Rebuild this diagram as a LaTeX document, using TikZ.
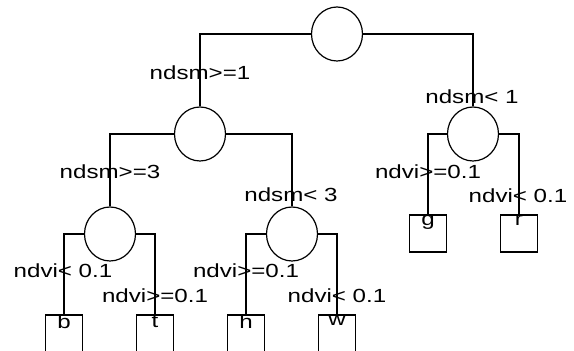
\documentclass[tikz,border=0pt]{standalone}
\usepackage{fontspec}
\setmainfont{Liberation Sans}
\newfontfamily\widefont[FakeStretch=1.27]{Liberation Sans}
\usetikzlibrary{shapes.geometric}

\begin{document}
\begin{tikzpicture}[x=0.5pt, y=-0.5pt, line width=0.6pt,
  split/.style={draw, ellipse, minimum width=25.5pt, minimum height=27pt, inner sep=0pt},
  leaf/.style={draw, minimum width=18.5pt, minimum height=18.5pt, inner sep=0pt},
  letter/.style={anchor=north, inner sep=0pt, font=\widefont\fontsize{9.5pt}{11pt}\selectfont},
  cond/.style={anchor=base, inner sep=0pt, font=\widefont\fontsize{9.5pt}{11pt}\selectfont}]
  \useasboundingbox (0,0) rectangle (574,351);
  % split nodes
  \node[split] (root) at (337,34) {};
  \node[split] (s1) at (200,134) {};
  \node[split] (s2) at (473,134) {};
  \node[split] (s11) at (110,234) {};
  \node[split] (s12) at (292,234) {};
  % leaves
  \foreach \name/\x/\y in {b/64/333.5, t/155/333.5, h/246/333.5, w/337/333.5, g/428/233.5, r/519/233.5} {
    \node[leaf] (box\name) at (\x,\y) {};
    \node[letter] (\name) at (box\name.north) {\name};
  }
  % branches
  \draw (root.west) -| (s1.north);
  \draw (root.east) -| (s2.north);
  \draw (s1.west) -| (s11.north);
  \draw (s1.east) -| (s12.north);
  \draw (s2.west) -| (g.north);
  \draw (s2.east) -| (r.north);
  \draw (s11.west) -| (b.north);
  \draw (s11.east) -| (t.north);
  \draw (s12.west) -| (h.north);
  \draw (s12.east) -| (w.north);
  % conditions
  \node[cond] (c1) at (200,80) {ndsm>=1};
  \node[cond] (c2) at (472,104) {ndsm< 1};
  \node[cond] (c11) at (110,179) {ndsm>=3};
  \node[cond] (c12) at (291,202) {ndsm< 3};
  \node[cond] (c21) at (428,179) {ndvi>=0.1};
  \node[cond] (c22) at (518,203) {ndvi< 0.1};
  \node[cond] (c111) at (63,278) {ndvi< 0.1};
  \node[cond] (c112) at (155,303) {ndvi>=0.1};
  \node[cond] (c121) at (246,278) {ndvi>=0.1};
  \node[cond] (c122) at (337,303) {ndvi< 0.1};
\end{tikzpicture}
\end{document}
